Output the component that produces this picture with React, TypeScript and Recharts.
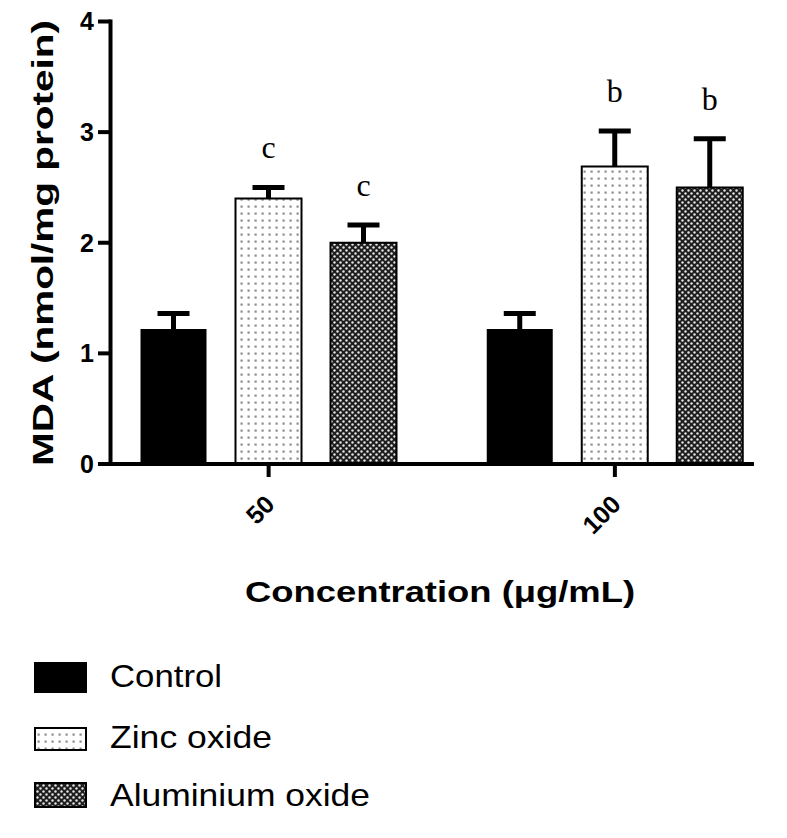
import React from 'react';
import { BarChart, Bar, XAxis, YAxis, LabelList, Legend } from 'recharts';

// ---- data ----
const categories = ['50', '100'];
const controlMean = [1.22, 1.22];
const controlErr = [0.14, 0.14];
const zincMean = [2.4, 2.69];
const zincErr = [0.1, 0.32];
const aluMean = [2.0, 2.5];
const aluErr = [0.16, 0.44];
const zincLetters = ['c', 'b'];
const aluLetters = ['c', 'b'];
const yTicks = [0, 1, 2, 3, 4];
const seriesNames = ['Control', 'Zinc oxide', 'Aluminium oxide'];
const xTitle = 'Concentration (\u03bcg/mL)';
const yTitle = 'MDA (nmol/mg protein)';

const SANS = '"Liberation Sans", Arial, Helvetica, sans-serif';
const SERIF = '"Liberation Serif", "Times New Roman", serif';

const data = categories.map((c, i) => ({
  cat: c,
  control: controlMean[i],
  controlErr: controlErr[i],
  controlLetter: '',
  zinc: zincMean[i],
  zincErr: zincErr[i],
  zincLetter: zincLetters[i],
  alu: aluMean[i],
  aluErr: aluErr[i],
  aluLetter: aluLetters[i],
}));

const seriesFills = ['#000', 'url(#zincPat)', 'url(#aluPat)'];

const ErrShape = (props: any) => {
  const { x, y, width, height } = props;
  if (x == null || y == null || !isFinite(height)) return null;
  const cx = x + width / 2;
  return (
    <g>
      <line x1={cx} x2={cx} y1={y + height} y2={y} stroke="#000" strokeWidth={5} />
      <line x1={cx - 16} x2={cx + 16} y1={y} y2={y} stroke="#000" strokeWidth={5} />
    </g>
  );
};

const letterContent = (props: any) => {
  const { x, y, width, value } = props;
  if (!value) return null;
  return (
    <text
      x={x + width / 2}
      y={y - 29}
      textAnchor="middle"
      fontFamily={SERIF}
      fontSize={32}
      fill="#000"
    >
      {value}
    </text>
  );
};

const XTick = (props: any) => {
  const { x, y, payload } = props;
  return (
    <g transform={`translate(${x + 7.5},${y + 27})`}>
      <text
        x={0}
        y={0}
        textAnchor="end"
        transform="rotate(-45)"
        fontSize={25}
        fontWeight="bold"
        fontFamily={SANS}
        fill="#000"
      >
        {payload.value}
      </text>
    </g>
  );
};

const legendGeom = [
  { x: 34, y: 662, w: 53, h: 31, sw: 0, ty: 687, tl: 112 },
  { x: 35, y: 728, w: 51, h: 22, sw: 2, ty: 748, tl: 162 },
  { x: 35, y: 783, w: 51, h: 24, sw: 2, ty: 806, tl: 260 },
];

const LegendContent = () => {
  const top = 640;
  return (
    <svg width={787} height={198} style={{ display: 'block' }}>
      {seriesNames.map((name, i) => {
        const g = legendGeom[i];
        return (
          <g key={name}>
            <rect
              x={g.x}
              y={g.y - top}
              width={g.w}
              height={g.h}
              fill={seriesFills[i]}
              stroke="#000"
              strokeWidth={g.sw || 0}
            />
            <text
              x={110}
              y={g.ty - top}
              fontFamily={SANS}
              fontSize={32}
              fill="#000"
              textLength={g.tl}
              lengthAdjust="spacingAndGlyphs"
            >
              {name}
            </text>
          </g>
        );
      })}
    </svg>
  );
};

export default function App() {
  return (
    <div style={{ position: 'absolute', left: 0, top: 0, width: 787, height: 838, background: '#fff' }}>
      <BarChart
        width={787}
        height={838}
        data={data}
        margin={{ top: 21.5, right: 35, left: 40.5, bottom: 274 }}
        barSize={66}
        barGap={29}
      >
        <defs>
          <pattern id="zincPat" width={7} height={7} patternUnits="userSpaceOnUse">
            <rect width={7} height={7} fill="#fff" />
            <rect x={2.5} y={2.5} width={2.2} height={2.2} fill="#8c8c8c" />
          </pattern>
          <pattern id="aluPat" width={6} height={6} patternUnits="userSpaceOnUse">
            <rect width={6} height={6} fill="#1e1e1e" />
            <circle cx={1.5} cy={1.5} r={1.2} fill="#e6e6e6" />
            <circle cx={4.5} cy={4.5} r={1.2} fill="#e6e6e6" />
          </pattern>
        </defs>
        <XAxis
          dataKey="cat"
          height={100}
          padding={{ left: -15, right: -36 }}
          axisLine={{ stroke: '#000', strokeWidth: 4, strokeLinecap: 'square' }}
          tickLine={{ stroke: '#000', strokeWidth: 4 }}
          tickSize={13}
          tick={<XTick />}
          interval={0}
          label={() => (
            <text
              x={440}
              y={602}
              textAnchor="middle"
              fontFamily={SANS}
              fontSize={30}
              fontWeight="bold"
              fill="#000"
              textLength={390}
              lengthAdjust="spacingAndGlyphs"
            >
              {xTitle}
            </text>
          )}
        />
        <YAxis
          width={70}
          domain={[0, 4]}
          ticks={yTicks}
          interval={0}
          axisLine={{ stroke: '#000', strokeWidth: 4, strokeLinecap: 'square' }}
          tickLine={{ stroke: '#000', strokeWidth: 4 }}
          tickSize={12.5}
          tickMargin={4}
          tick={{ fontSize: 25, fontWeight: 'bold', fill: '#000', fontFamily: SANS }}
          label={() => (
            <text
              x={53}
              y={243}
              transform="rotate(-90, 53, 243)"
              textAnchor="middle"
              fontFamily={SANS}
              fontSize={30}
              fontWeight="bold"
              fill="#000"
              textLength={446}
              lengthAdjust="spacingAndGlyphs"
            >
              {yTitle}
            </text>
          )}
        />
        <Legend
          layout="horizontal"
          verticalAlign="middle"
          align="center"
          wrapperStyle={{ left: 0, top: 640, width: 787, height: 198 }}
          content={<LegendContent />}
        />
        <Bar dataKey="control" name={seriesNames[0]} stackId="ctrl" fill={seriesFills[0]} isAnimationActive={false} />
        <Bar dataKey="controlErr" stackId="ctrl" shape={ErrShape} legendType="none" isAnimationActive={false} />
        <Bar
          dataKey="zinc"
          name={seriesNames[1]}
          stackId="zinc"
          fill={seriesFills[1]}
          stroke="#000"
          strokeWidth={2}
          isAnimationActive={false}
        />
        <Bar dataKey="zincErr" stackId="zinc" shape={ErrShape} legendType="none" isAnimationActive={false}>
          <LabelList dataKey="zincLetter" content={letterContent} />
        </Bar>
        <Bar
          dataKey="alu"
          name={seriesNames[2]}
          stackId="alu"
          fill={seriesFills[2]}
          stroke="#000"
          strokeWidth={2}
          isAnimationActive={false}
        />
        <Bar dataKey="aluErr" stackId="alu" shape={ErrShape} legendType="none" isAnimationActive={false}>
          <LabelList dataKey="aluLetter" content={letterContent} />
        </Bar>
      </BarChart>
    </div>
  );
}
